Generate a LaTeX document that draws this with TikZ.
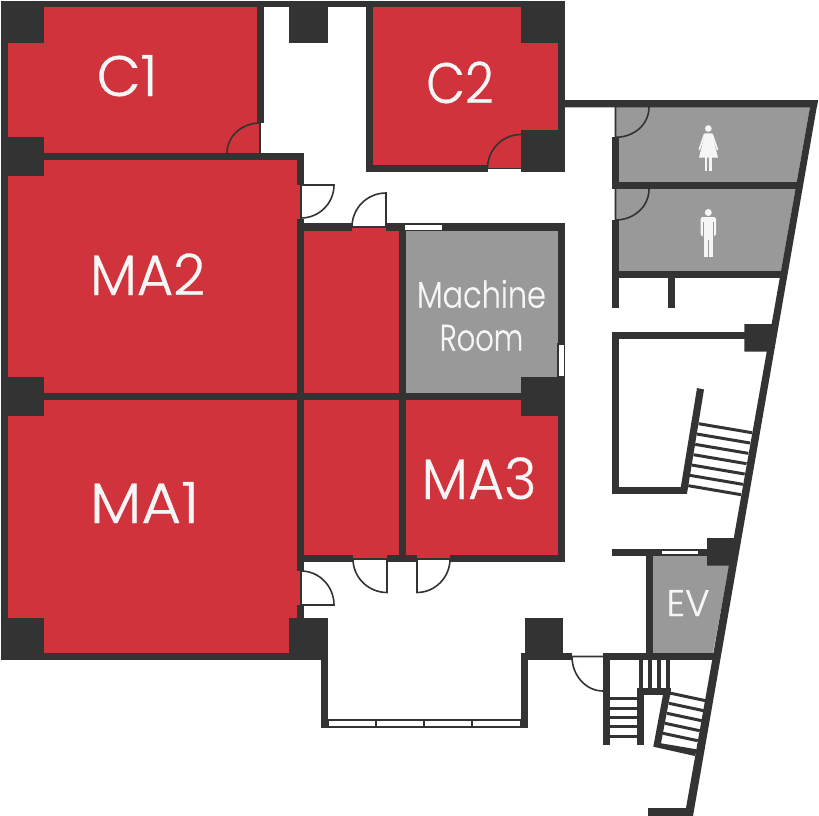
\documentclass[tikz,border=0pt]{standalone}
\usepackage{graphicx}
\usepackage{fontspec}
\setmainfont{Poppins Light}[FakeBold=0.6]
\definecolor{wallc}{HTML}{333333}
\definecolor{redc}{HTML}{D0333C}
\definecolor{grayc}{HTML}{999999}
\definecolor{labelc}{HTML}{F6F6F6}
\tikzset{
 wall/.style={fill=wallc,draw=none},
 redroom/.style={fill=redc,draw=none},
 grayroom/.style={fill=grayc,draw=none},
 door/.style={draw=wallc,line width=1.6pt,fill=white},
 doorline/.style={draw=wallc,line width=1.6pt},
 glass/.style={draw=wallc,line width=1.3pt,fill=white},
 tread/.style={draw=wallc,line width=3pt},
 big/.style={anchor=base,inner sep=0pt,text=labelc,font=\fontsize{57}{57}\selectfont},
 mid/.style={anchor=base,inner sep=0pt,text=labelc,font=\fontsize{37}{37}\selectfont},
 figure/.style={fill=labelc,draw=none},
 limb/.style={draw=labelc,line cap=round},
}
\begin{document}
\begin{tikzpicture}[x=1pt,y=-1pt]
\useasboundingbox (0,0) rectangle (819,816);
\fill[white] (0,0) rectangle (819,816);
% red rooms
\fill[redroom] (8,7) rectangle (260,153);
\fill[redroom] (373,7) rectangle (557.5,168);
\fill[redroom] (8,160) rectangle (300,393);
\fill[redroom] (8,399) rectangle (300,653);
\fill[redroom] (304,227) rectangle (398.5,393);
\fill[redroom] (304,399) rectangle (398.5,559);
\fill[redroom] (405.5,399) rectangle (558,559);
% grey rooms
\fill[grayroom] (405.5,231) rectangle (558,393);
\fill[grayroom] (615.5,107) -- (810,107) -- (796.7,182) -- (615.5,182) -- cycle;
\fill[grayroom] (615.5,189) -- (795.5,189) -- (781,271.5) -- (615.5,271.5) -- cycle;
\fill[grayroom] (652.5,556) -- (731,556) -- (712.9,653) -- (652.5,653) -- cycle;
% outer walls
\fill[wall] (1,1) rectangle (565,7.3);
\fill[wall] (1,1) rectangle (8,660);
\fill[wall] (1,153) rectangle (304,160);
\fill[wall] (1,393) rectangle (565,399.5);
\fill[wall] (1,653) rectangle (328,660);
\fill[wall] (257,7) rectangle (264,123);
\fill[wall] (297,153) rectangle (304,185);
\fill[wall] (297,218.5) rectangle (304,571);
\fill[wall] (297,605) rectangle (304,653);
\fill[wall] (366,1) rectangle (373,172);
\fill[wall] (366,165) rectangle (487.5,172);
\fill[wall] (557.5,1) rectangle (565,172);
\fill[wall] (565,100) -- (818,100) -- (816.7,107.3) -- (565,107.3) -- cycle;
\fill[wall] (297,223.3) rectangle (352,230.7);
\fill[wall] (386,223.3) rectangle (565,230.7);
\fill[wall] (398.5,223.3) rectangle (405.5,562);
\fill[wall] (558,223.3) rectangle (565,562);
\fill[wall] (297,555) rectangle (353,562);
\fill[wall] (387,555) rectangle (417,562);
\fill[wall] (450,555) rectangle (565,562);
% slanted east wall
\fill[wall] (818,100) -- (693,816) -- (648,816) -- (648,808) -- (686,808) -- (810,107) -- cycle;
% pillars
\fill[wall] (1,1) rectangle (44,43);
\fill[wall] (1,137) rectangle (44,176);
\fill[wall] (1,377) rectangle (44,416);
\fill[wall] (1,618) rectangle (44,660);
\fill[wall] (289,1) rectangle (328,43);
\fill[wall] (521,1) rectangle (565,43);
\fill[wall] (521,130) rectangle (565,172);
\fill[wall] (521,377) rectangle (565,416);
\fill[wall] (289,618) rectangle (328,660);
\fill[wall] (524.7,618) rectangle (563.3,660);
\fill[wall] (744.3,324) -- (775,324) -- (770,351.7) -- (744.3,351.7) -- cycle;
\fill[wall] (707,538) -- (736,538) -- (731,565.7) -- (707,565.7) -- cycle;
% WC walls
\fill[wall] (612,137.3) rectangle (619.3,189.3);
\fill[wall] (612,182) rectangle (800,189.3);
\fill[wall] (612,220) rectangle (619.3,307.7);
\fill[wall] (612,271.3) rectangle (785,278.3);
\fill[wall] (668,278) rectangle (675.3,307.7);
% stair well
\fill[wall] (612,331.7) rectangle (750,339);
\fill[wall] (612,331.7) rectangle (619.3,493.7);
\fill[wall] (612,486.5) rectangle (687,493.7);
\fill[wall] (697,388) -- (704,389.5) -- (687,493.7) -- (680,492) -- cycle;
\foreach \i in {0,...,6}{
 \draw[tread] ({698.7-1.733*\i},{423.7+10.33*\i}) -- ({752-1.83*\i},{432.7+10.33*\i});
}
% EV walls
\fill[wall] (612,548.7) rectangle (710,556);
\fill[wall] (645.7,548.7) rectangle (652.7,660);
\fill[wall] (603,653) rectangle (716,660.3);
% lobby
\fill[wall] (321,653) rectangle (328,727.7);
\fill[wall] (520.7,653) rectangle (527.7,727.7);
\fill[wall] (520.7,653) rectangle (572,660);
\draw[glass] (328,720) rectangle (521,727);
\foreach \x in {376,424,472}{\draw[doorline] (\x,720) -- (\x,727);}
% lower stairs
\fill[wall] (603,653) rectangle (610.3,744.7);
\fill[wall] (637,688) rectangle (644,744.7);
\fill[wall] (637,688) rectangle (670.7,695);
\foreach \x in {640.7,649.7,658.7,667.7}{\draw[wallc,line width=4pt] (\x,660) -- (\x,688);}
\foreach \y in {698.7,708,717.3,726.7,736}{\draw[tread] (610,\y) -- (637,\y);}
\fill[wall] (663.3,693) -- (670.5,693) -- (661,743.3) -- (696.7,749.3) -- (695,756) -- (653.3,746.7) -- cycle;
\foreach \i in {0,...,4}{
 \draw[tread] ({671-2*\i},{693.3+10*\i}) -- ({705.7-2*\i},{700.7+10*\i});
}
% windows
\draw[glass] (404.5,224) rectangle (442.5,230.5);
\draw[glass] (558,344) rectangle (564.7,376.7);
\draw[glass] (661,550) rectangle (699,555);
% doors
\draw[door] (301,185) -- (334,185) .. controls (334,203.2) and (319.2,218) .. (301,218) -- cycle;
\draw[door] (386,227) -- (352,227) .. controls (352,208.2) and (367.2,193) .. (386,193) -- cycle;
\draw[door] (387,559) -- (353,559) .. controls (353,577.5) and (368.5,592.5) .. (387,592.5) -- cycle;
\draw[door] (417,559) -- (450,559) .. controls (450,577.5) and (435,592.5) .. (417,592.5) -- cycle;
\draw[door] (301,605) -- (301,571) .. controls (319.5,571) and (334,586.5) .. (334,605) -- cycle;
\draw[doorline] (260,153) -- (260,123) .. controls (241.8,123) and (227,136.4) .. (227,153);
\draw[doorline] (487.5,168.5) .. controls (487.5,149.5) and (502.5,134.5) .. (521,134.5);
\draw[doorline] (487.5,168.5) -- (521,168.5);
\draw[doorline] (615.5,107) -- (615.5,137.3) .. controls (633.5,137.3) and (649,125) .. (649,107);
\draw[doorline] (615.5,189) -- (615.5,220) .. controls (633.5,220) and (649,207) .. (649,189);
\draw[doorline] (603,656.5) -- (572,656.5) .. controls (572,675.5) and (586,691) .. (603,691);
% woman
\fill[figure] (708.3,128.5) circle[radius=3.3];
\fill[figure] (705,133.3) -- (711.8,133.3) -- (718,157.5) -- (699,157.5) -- cycle;
\fill[figure] (705,156) rectangle (707.3,171);
\fill[figure] (709.4,156) rectangle (711.7,171);
\draw[limb,line width=1.6pt] (704.5,134.3) -- (699.3,149.5);
\draw[limb,line width=1.6pt] (712.2,134.3) -- (717.5,149.5);
% man
\fill[figure] (708.3,212.5) circle[radius=3.5];
\fill[figure,rounded corners=2pt] (700.7,236) -- (700.7,217) -- (716,217) -- (716,236) -- cycle;
\fill[figure] (703.5,225) rectangle (707.7,256.7);
\fill[figure] (709,225) rectangle (713.2,256.7);
\fill[figure] (703.5,220) rectangle (713.2,240);
\draw[grayc,line width=.6pt] (703.2,222) -- (703.2,236);
\draw[grayc,line width=.6pt] (713.5,222) -- (713.5,236);
% labels
\node[big] (c1) at (127,96) {C1};
\node[big] (c2) at (460,103) {\scalebox{.88}[1]{C2}};
\node[big] (ma2) at (147.5,295) {\scalebox{.98}[1]{MA2}};
\node[big] (ma1) at (144.5,523) {\scalebox{1.07}[1]{MA1}};
\node[big] (ma3) at (479,499) {\scalebox{.97}[1]{MA3}};
\node[mid] (mach) at (481.5,307.7) {\scalebox{.82}[1]{Machine}};
\node[mid] (room) at (481.5,350.7) {\scalebox{.78}[1]{Room}};
\node[mid] (ev) at (688,616) {EV};
\end{tikzpicture}
\end{document}
